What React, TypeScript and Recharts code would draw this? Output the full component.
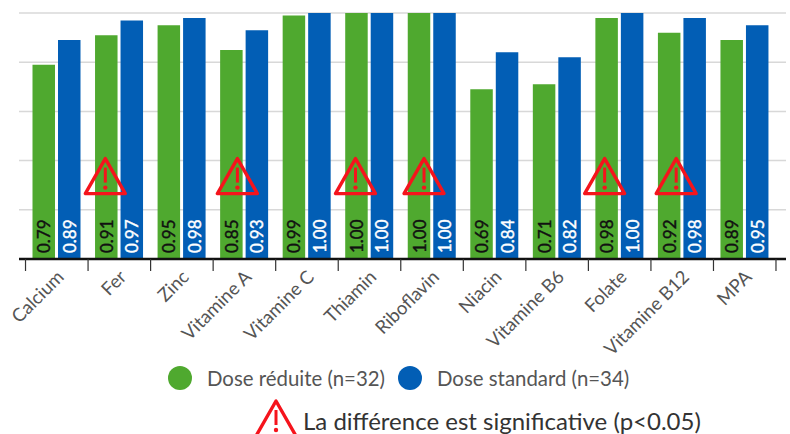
import { BarChart, Bar, XAxis, YAxis, CartesianGrid, LabelList, Legend, ReferenceDot } from 'recharts';

const CATEGORIES = ['Calcium', 'Fer', 'Zinc', 'Vitamine A', 'Vitamine C', 'Thiamin', 'Riboflavin', 'Niacin', 'Vitamine B6', 'Folate', 'Vitamine B12', 'MPA'];
const REDUCED = [0.79, 0.91, 0.95, 0.85, 0.99, 1.0, 1.0, 0.69, 0.71, 0.98, 0.92, 0.89];
const STANDARD = [0.89, 0.97, 0.98, 0.93, 1.0, 1.0, 1.0, 0.84, 0.82, 1.0, 0.98, 0.95];
const SIGNIFICANT = ['Fer', 'Vitamine A', 'Thiamin', 'Riboflavin', 'Folate', 'Vitamine B12'];
const WARNING_SHIFT = [-14, -7, -14, -8, -15, -6];
const Y_TICKS = [0, 0.2, 0.4, 0.6, 0.8, 1];

const GREEN = '#4fa92f';
const BLUE = '#025eb5';
const FONT = 'Lato, sans-serif';

const data = CATEGORIES.map((name, i) => ({ name, reduced: REDUCED[i], standard: STANDARD[i] }));

const BAND = 62.5;

function Triangle({ cx, cy, scale = 1 }: { cx: number; cy: number; scale?: number }) {
  return (
    <g transform={`translate(${cx},${cy}) scale(${scale})`}>
      <path d="M0,-18 L-20,17 L20,17 Z" fill="none" stroke="#f5141c" strokeWidth={3.4} strokeLinejoin="round" />
      <path d="M0,-9 L0,6" stroke="#f5141c" strokeWidth={3} />
      <circle cx={0} cy={11} r={2.2} fill="#f5141c" />
    </g>
  );
}

function CategoryTick({ x, y, payload, index }: any) {
  const left = x - BAND / 2;
  const lx = x - 2;
  const ly = y + 1;
  return (
    <g>
      <line x1={left} y1={y - 8} x2={left} y2={y + 4} stroke="#333" strokeWidth={1.2} />
      {index === CATEGORIES.length - 1 && (
        <line x1={left + BAND} y1={y - 8} x2={left + BAND} y2={y + 4} stroke="#333" strokeWidth={1.2} />
      )}
      <text
        x={lx}
        y={ly}
        textAnchor="end"
        fontFamily={FONT}
        fontSize={18.5}
        fill="#555"
        transform={`rotate(-45 ${lx} ${ly})`}
        dominantBaseline="hanging"
      >
        {payload.value}
      </text>
    </g>
  );
}

function ValueLabel({ x, y, width, height, value, fill }: any) {
  const cx = x + width / 2;
  const by = y + height - 6;
  return (
    <text
      x={cx}
      y={by}
      transform={`rotate(-90 ${cx} ${by})`}
      dominantBaseline="central"
      fontFamily={FONT}
      fontSize={17}
      fill={fill}
      stroke={fill}
      strokeWidth={0.4}
    >
      {Number(value).toFixed(2)}
    </text>
  );
}

function LegendContent({ payload }: any) {
  return (
    <div style={{ position: 'relative', height: 30, fontFamily: FONT, fontSize: 20.4, color: '#555' }}>
      {(payload || []).map((entry: any, i: number) => (
        <div key={entry.value} style={{ position: 'absolute', left: i === 0 ? 168 : 398, top: 0, display: 'flex', alignItems: 'center', height: 30, whiteSpace: 'nowrap' }}>
          <span style={{ width: 24, height: 24, borderRadius: 12, background: entry.color, marginRight: 15 }} />
          <span>{entry.value}</span>
        </div>
      ))}
    </div>
  );
}

export default function App() {
  return (
    <div style={{ position: 'absolute', left: 0, top: 0, width: 790, height: 434, overflow: 'hidden', background: '#fff' }}>
      <BarChart
        width={790}
        height={434}
        data={data}
        margin={{ top: 13, right: 4, left: 19, bottom: 85 }}
        barSize={22.5}
        barGap={3}
      >
        <CartesianGrid vertical={false} stroke="#d8d8d8" strokeWidth={1.5} />
        <XAxis
          dataKey="name"
          interval={0}
          padding={{ left: 6.5, right: 10 }}
          tick={<CategoryTick />}
          tickLine={false}
          axisLine={{ stroke: '#111', strokeWidth: 2.5 }}
          height={60}
        />
        <YAxis hide domain={[0, 1]} ticks={Y_TICKS} />
        <Bar dataKey="reduced" name="Dose réduite (n=32)" fill={GREEN} isAnimationActive={false}>
          <LabelList dataKey="reduced" content={(p: any) => <ValueLabel {...p} fill="#111" />} />
        </Bar>
        <Bar dataKey="standard" name="Dose standard (n=34)" fill={BLUE} isAnimationActive={false}>
          <LabelList dataKey="standard" content={(p: any) => <ValueLabel {...p} fill="#fff" />} />
        </Bar>
        {SIGNIFICANT.map((name, i) => (
          <ReferenceDot
            key={name}
            x={name}
            y={0.335}
            r={0}
            shape={(p: any) => <Triangle cx={p.cx + WARNING_SHIFT[i]} cy={p.cy} />}
          />
        ))}
        <Legend
          layout="horizontal"
          verticalAlign="bottom"
          wrapperStyle={{ position: 'absolute', left: 0, top: 363, width: 790 }}
          content={<LegendContent />}
        />
      </BarChart>
      <svg width={48} height={50} style={{ position: 'absolute', left: 252, top: 397, overflow: 'hidden' }}>
        <Triangle cx={24} cy={22} />
      </svg>
      <div style={{ position: 'absolute', left: 303, top: 409, lineHeight: '24px', fontFamily: FONT, fontSize: 24, color: '#333', whiteSpace: 'nowrap' }}>
        La différence est significative (p&lt;0.05)
      </div>
    </div>
  );
}
